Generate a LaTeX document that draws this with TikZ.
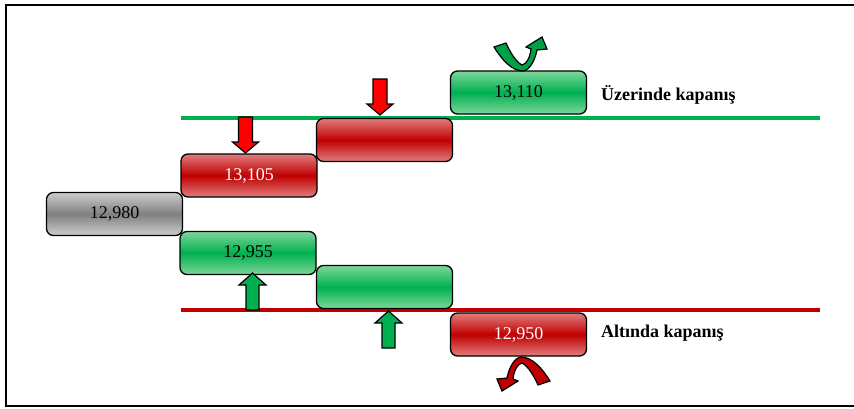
\documentclass[tikz,border=0pt]{standalone}
\usepackage{fontspec}
\setmainfont{Liberation Serif}
\definecolor{gmid}{RGB}{0,176,80}
\definecolor{glight}{RGB}{125,215,155}
\definecolor{rmid}{RGB}{192,0,0}
\definecolor{rlight}{RGB}{225,125,125}
\definecolor{kmid}{RGB}{128,128,128}
\definecolor{klight}{RGB}{205,205,205}
\definecolor{arrred}{RGB}{255,0,0}
\definecolor{arrgreen}{RGB}{0,176,80}
\definecolor{curvgreen}{RGB}{0,160,70}
\definecolor{curvred}{RGB}{192,0,0}
\begin{document}
\begin{tikzpicture}[x=1pt,y=-1pt,
  box/.style={draw=black, line width=1.3pt, rounded corners=7pt, minimum width=136pt, minimum height=43pt, inner sep=0pt, font=\fontsize{18}{21}\selectfont},
  greenbox/.style={box, top color=glight, bottom color=glight, middle color=gmid},
  redbox/.style={box, top color=rlight, bottom color=rlight, middle color=rmid, text=white},
  graybox/.style={box, top color=klight, bottom color=klight, middle color=kmid},
  label/.style={anchor=base west, inner sep=0pt, font=\fontsize{18}{21}\selectfont\bfseries},
  gline/.style={draw=gmid, line width=4pt},
  rline/.style={draw=rmid, line width=4pt},
  blk/.style={draw=black, line width=1.2pt, line join=miter},
  frameline/.style={draw=black, line width=1.8pt}
]
\useasboundingbox (0,0) rectangle (854,408);
% frame
\coordinate (f1) at (854,5);
\coordinate (f2) at (6,5);
\coordinate (f3) at (6,406);
\coordinate (f4) at (854,406);
\draw[frameline] (f1) -- (f2) -- (f3) -- (f4);

% level lines
\coordinate (gL) at (181,118);
\coordinate (gR) at (820,118);
\coordinate (rL) at (181,310);
\coordinate (rR) at (820,310);
\draw[gline] (gL) -- (gR);
\draw[rline] (rL) -- (rR);

% boxes
\node[graybox] (b0) at (114.5,214) {12,980};
\node[redbox] (r1) at (249,175.5) {13,105};
\node[redbox] (r2) at (384.5,140) {};
\node[greenbox] (g3) at (518.5,92.5) {13,110};
\node[greenbox] (g1) at (248,253) {12,955};
\node[greenbox] (g2) at (384.5,287) {};
\node[redbox] (r3) at (518.5,334.5) {12,950};

% labels
\node[label] (lu) at (601,100) {Üzerinde kapanış};
\node[label] (la) at (601,337) {Altında kapanış};

% straight block arrows (down: tip at given point)
\foreach \tx/\ty in {245.5/153, 380/115}{
  \filldraw[blk, fill=arrred] (\tx-7,\ty-36) -- (\tx+7,\ty-36) -- (\tx+7,\ty-11) -- (\tx+13,\ty-11) -- (\tx,\ty) -- (\tx-13,\ty-11) -- (\tx-7,\ty-11) -- cycle;
}
% up arrows
\foreach \tx/\ty in {252.5/273, 388.5/311}{
  \filldraw[blk, fill=arrgreen] (\tx-6.5,\ty+37) -- (\tx+6.5,\ty+37) -- (\tx+6.5,\ty+12) -- (\tx+13.5,\ty+12) -- (\tx,\ty) -- (\tx-13.5,\ty+12) -- (\tx-6.5,\ty+12) -- cycle;
}

% curved green arrow above 13,110
\filldraw[blk, fill=curvgreen] (494,47) .. controls (502,60) and (512,71) .. (523,71)
  .. controls (530,70) and (535,60) .. (537,50) -- (547,49) -- (542,37) -- (526,47) -- (531,49)
  .. controls (530,57) and (527,64) .. (522,65)
  .. controls (516,62) and (510,52) .. (506,43) -- cycle;

% curved red arrow below 12,950 (same shape turned half round)
\begin{scope}[shift={(1044,428)}, rotate=180]
\filldraw[blk, fill=curvred] (494,47) .. controls (502,60) and (512,71) .. (523,71)
  .. controls (530,70) and (535,60) .. (537,50) -- (547,49) -- (542,37) -- (526,47) -- (531,49)
  .. controls (530,57) and (527,64) .. (522,65)
  .. controls (516,62) and (510,52) .. (506,43) -- cycle;
\end{scope}
\end{tikzpicture}
\end{document}
